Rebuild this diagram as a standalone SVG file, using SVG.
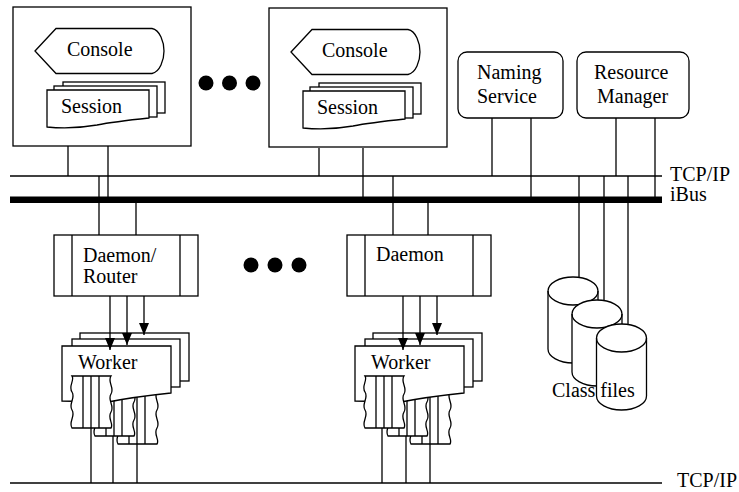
<svg xmlns="http://www.w3.org/2000/svg" width="739" height="492" viewBox="0 0 739 492" font-family="'Liberation Serif', 'Times New Roman', serif" font-size="20">
  <style>
    .ln { stroke: #000; stroke-width: 1.3; fill: none; }
    .sh { stroke: #000; stroke-width: 1.3; fill: #fff; }
    .tx { font-family: 'Liberation Serif', 'Times New Roman', serif; font-size: 20px; fill: #000; }
    .dot { fill: #000; }
  </style>
  <defs>
    <marker id="arrow" markerUnits="userSpaceOnUse" markerWidth="12" markerHeight="10" refX="12" refY="5" orient="auto">
      <path d="M0,0 L12,5 L0,10 Z" fill="#000"/>
    </marker>
    <!-- one thread strip with wavy sides and vertical stripes -->
    <g id="strip">
      <path class="sh" d="M0,0 H39 C35,6 43,12 39,18 C35,24 43,30 39,36 C35,42 42,48 39,52 H0 C-4,46 4,40 0,34 C-4,28 4,22 0,16 C-4,10 3,4 0,0 Z"/>
      <path class="ln" d="M11,0 V52 M19,0 V52 M27,0 V52"/>
    </g>
    <!-- stack of worker documents with their threads -->
    <g id="workerStack">
      <rect class="sh" x="80" y="333" width="109" height="48"/>
      <rect class="sh" x="72" y="339" width="108" height="48"/>
      <use href="#strip" x="118" y="392"/>
      <use href="#strip" x="95" y="384"/>
      <path class="sh" d="M62,346 H171 V393 C152,395 128,398 108,402 L62,401 Z"/>
      <text class="tx" x="78" y="369">Worker</text>
      <use href="#strip" x="72" y="376"/>
    </g>
    <!-- host with console and session stack -->
    <g id="hostBox">
      <rect class="sh" x="13" y="7" width="178" height="139"/>
      <path class="sh" d="M35,51 L56,28.5 H152 C160,30 164,42 164,51 C164,60 160,72 152,73.5 H56 Z"/>
      <rect class="sh" x="63" y="82" width="102" height="31"/>
      <rect class="sh" x="54" y="86" width="103" height="31"/>
      <path class="sh" d="M47,90 H149 V118 C130,120 112,122 97,125 C80,128 62,128.5 47,127 Z"/>
    </g>
    <!-- storage cylinder -->
    <g id="cyl">
      <path class="sh" d="M-25,0 V58 A25,14 0 0 0 25,58 V0 A25,14 0 0 0 -25,0 Z"/>
      <path class="ln" d="M-25,0 A25,14 0 0 0 25,0"/>
    </g>
  </defs>

  <!-- networks -->
  <g id="tcpip-top">
    <line class="ln" x1="10" y1="176" x2="662" y2="176"/>
    <text class="tx" x="670" y="181">TCP/IP</text>
  </g>
  <g id="ibus">
    <rect x="10" y="196.5" width="652" height="6.5" fill="#000"/>
    <text class="tx" x="670" y="201">iBus</text>
  </g>
  <g id="tcpip-bottom">
    <line class="ln" x1="10" y1="483" x2="662" y2="483"/>
    <text class="tx" x="677" y="487">TCP/IP</text>
  </g>

  <!-- hosts -->
  <g id="host1">
    <use href="#hostBox"/>
    <text class="tx" x="67" y="56">Console</text>
    <text class="tx" x="61" y="113">Session</text>
  </g>
  <g id="host2">
    <use href="#hostBox" x="256" y="1"/>
    <text class="tx" x="322" y="57">Console</text>
    <text class="tx" x="317" y="114">Session</text>
  </g>
  <g id="hostEllipsis">
    <circle class="dot" cx="206" cy="83" r="7.5"/>
    <circle class="dot" cx="229.5" cy="83" r="7.5"/>
    <circle class="dot" cx="253" cy="83" r="7.5"/>
  </g>

  <!-- services -->
  <g id="naming">
    <rect class="sh" x="458" y="52" width="105" height="66" rx="9"/>
    <text class="tx" x="477" y="79">Naming</text>
    <text class="tx" x="477" y="103">Service</text>
  </g>
  <g id="resource">
    <rect class="sh" x="577" y="52" width="112" height="66" rx="9"/>
    <text class="tx" x="594" y="79">Resource</text>
    <text class="tx" x="597" y="103">Manager</text>
  </g>

  <!-- daemons -->
  <g id="daemon1">
    <rect class="sh" x="54" y="235" width="144" height="61"/>
    <path class="ln" d="M72,235 V296 M180,235 V296"/>
    <text class="tx" x="83" y="262">Daemon/</text>
    <text class="tx" x="83" y="283">Router</text>
  </g>
  <g id="daemon2">
    <rect class="sh" x="347" y="235" width="144" height="61"/>
    <path class="ln" d="M365,235 V296 M473,235 V296"/>
    <text class="tx" x="376" y="261">Daemon</text>
  </g>
  <g id="daemonEllipsis">
    <circle class="dot" cx="251" cy="265" r="7.5"/>
    <circle class="dot" cx="275" cy="265" r="7.5"/>
    <circle class="dot" cx="299" cy="265" r="7.5"/>
  </g>

  <!-- workers -->
  <g id="workers1">
    <use href="#workerStack"/>
  </g>
  <g id="workers2">
    <use href="#workerStack" x="293"/>
  </g>

  <!-- class file store -->
  <g id="classFiles">
    <use href="#cyl" x="573" y="291"/>
    <use href="#cyl" x="597" y="314"/>
    <use href="#cyl" x="621.5" y="338"/>
    <text class="tx" x="552" y="397">Class files</text>
  </g>

  <!-- connectors -->
  <g id="connectors" class="ln">
    <!-- host 1 -->
    <line x1="68" y1="146" x2="68" y2="176"/>
    <line x1="108" y1="146" x2="108" y2="197"/>
    <!-- host 2 -->
    <line x1="319" y1="148" x2="319" y2="176"/>
    <line x1="363" y1="148" x2="363" y2="197"/>
    <!-- daemon 1 -->
    <line x1="99" y1="176" x2="99" y2="235"/>
    <line x1="136" y1="203" x2="136" y2="235"/>
    <!-- daemon 2 -->
    <line x1="393" y1="176" x2="393" y2="235"/>
    <line x1="428" y1="203" x2="428" y2="235"/>
    <!-- naming service -->
    <line x1="492" y1="118" x2="492" y2="176"/>
    <line x1="531" y1="118" x2="531" y2="197"/>
    <!-- resource manager -->
    <line x1="616" y1="118" x2="616" y2="176"/>
    <line x1="655" y1="118" x2="655" y2="197"/>
    <!-- class files -->
    <line x1="579" y1="176" x2="579" y2="277"/>
    <line x1="604" y1="176" x2="604" y2="300.5"/>
    <line x1="628" y1="176" x2="628" y2="324.5"/>
    <!-- daemon 1 to workers -->
    <line x1="110" y1="296" x2="110" y2="350" marker-end="url(#arrow)"/>
    <line x1="127" y1="296" x2="127" y2="345" marker-end="url(#arrow)"/>
    <line x1="144" y1="296" x2="144" y2="335" marker-end="url(#arrow)"/>
    <!-- daemon 2 to workers -->
    <line x1="403" y1="296" x2="403" y2="350" marker-end="url(#arrow)"/>
    <line x1="420" y1="296" x2="420" y2="345" marker-end="url(#arrow)"/>
    <line x1="437" y1="296" x2="437" y2="335" marker-end="url(#arrow)"/>
    <!-- worker threads to bottom network -->
    <line x1="91" y1="428" x2="91" y2="483"/>
    <line x1="113" y1="436" x2="113" y2="483"/>
    <line x1="137" y1="444" x2="137" y2="483"/>
    <line x1="382" y1="428" x2="382" y2="483"/>
    <line x1="406" y1="436" x2="406" y2="483"/>
    <line x1="430" y1="444" x2="430" y2="483"/>
  </g>
</svg>
